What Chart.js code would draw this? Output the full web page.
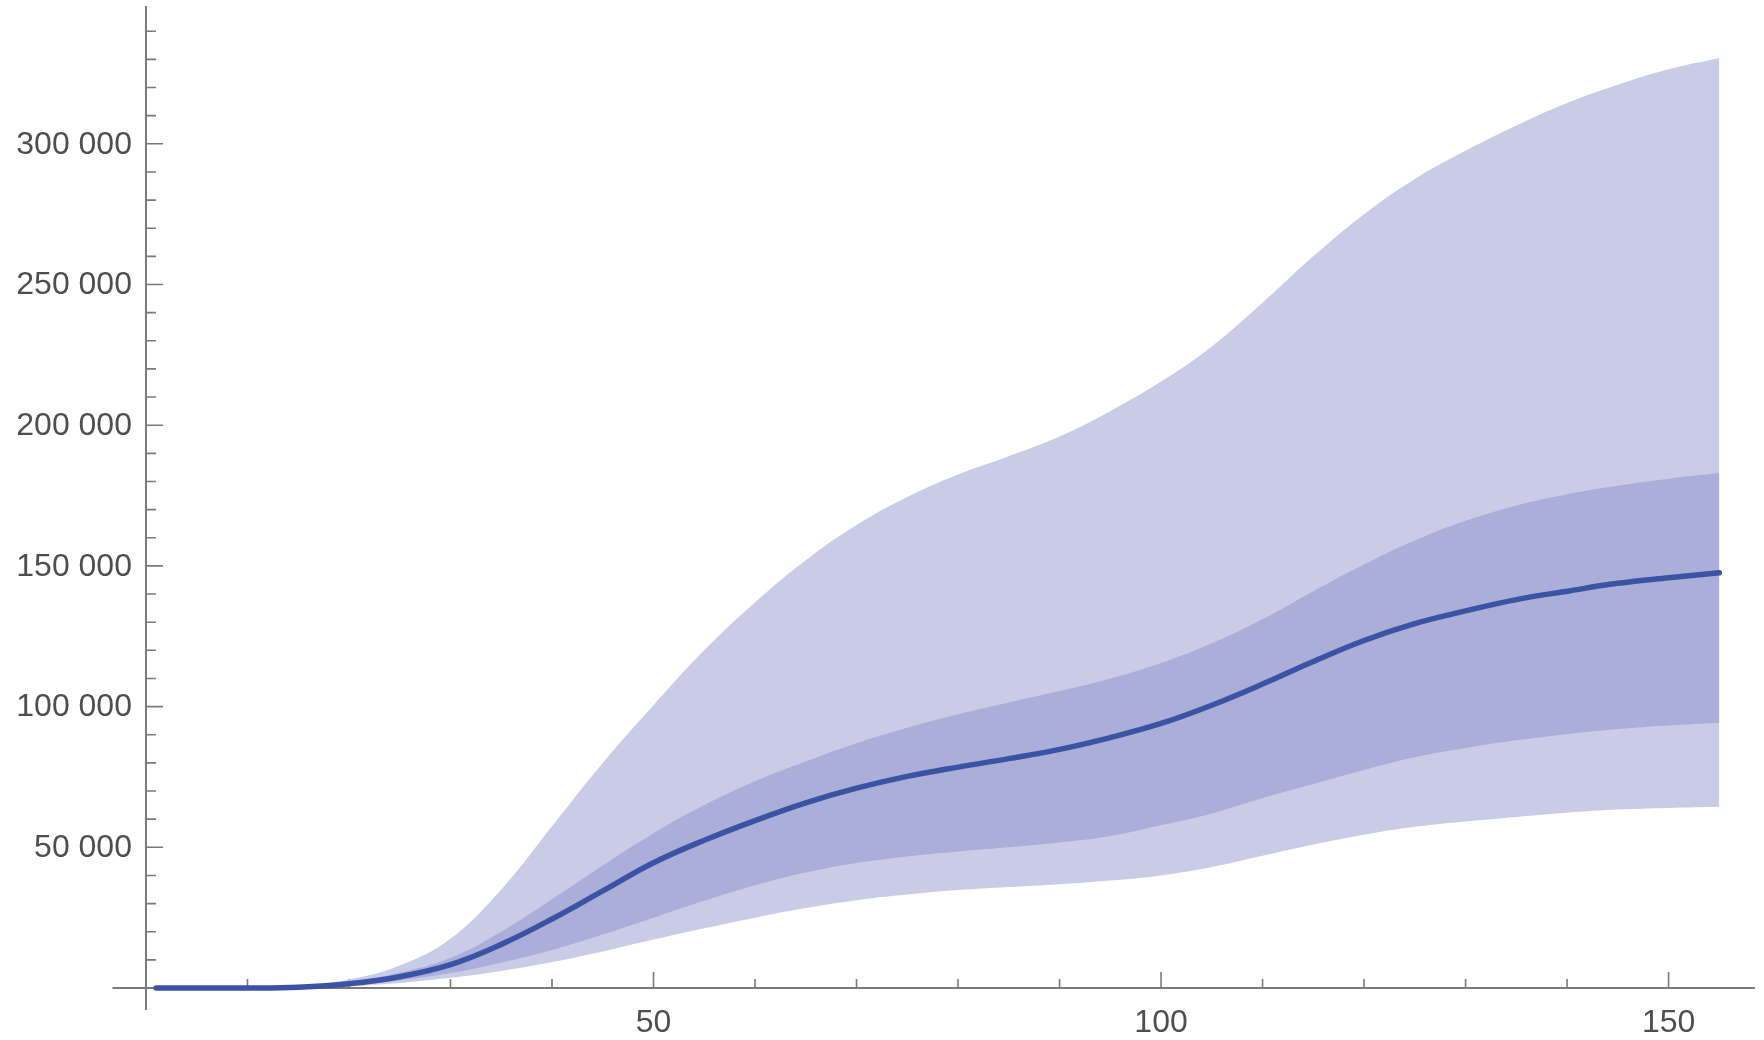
<!DOCTYPE html>
<html>
<head>
<meta charset="utf-8">
<script src="https://cdn.jsdelivr.net/npm/chart.js@4/dist/chart.umd.min.js"></script>
<style>
  html, body { margin: 0; padding: 0; background: #fff; }
  #wrap { width: 1764px; height: 1040px; position: relative; }
</style>
</head>
<body>
<div id="wrap"><canvas id="grafica"></canvas></div>
<script>
// ── Datos: días y bandas de la proyección ─────────────────────────
var dias = [1, 5, 10, 15, 20, 25, 30, 35, 40, 45, 50, 55, 60, 65, 70, 75,
            80, 85, 90, 95, 100, 105, 110, 115, 120, 125, 130, 135, 140, 145, 150, 155];

var mediana = [0, 0, 0, 300, 1500, 4000, 8300, 15500, 24500, 34500, 44500, 52500,
               59500, 65800, 71000, 75200, 78500, 81500, 84800, 89000, 94000, 100500,
               108000, 116000, 123500, 129500, 134000, 138000, 141000, 143800, 145800, 147600];

var internaSup = [0, 0, 0, 400, 2000, 5500, 10700, 20000, 31500, 43500, 55000, 65000,
                  73500, 80500, 87000, 92500, 97300, 101500, 105500, 110000, 115500, 122500,
                  131000, 141000, 150500, 159000, 166000, 171500, 175500, 178500, 181000, 183000];

var internaInf = [0, 0, 0, 200, 1000, 2700, 5300, 9000, 13500, 19000, 25000, 31000,
                  36500, 41000, 44400, 46700, 48500, 50000, 51700, 54000, 57800, 62000,
                  67500, 72500, 77500, 82000, 85300, 88000, 90200, 92000, 93300, 94300];

var externaSup = [0, 0, 0, 600, 3000, 8000, 17500, 35000, 57500, 80000, 100500, 120000,
                  137000, 152000, 164500, 174500, 182500, 189000, 196000, 205000, 215500, 228000,
                  243500, 260000, 275000, 287500, 297500, 306500, 314500, 321000, 326500, 330500];

var externaInf = [0, 0, 0, 100, 700, 1800, 3600, 6000, 9200, 13000, 17200, 21200,
                  25000, 28400, 31200, 33200, 34800, 35900, 36900, 38200, 40000, 43000,
                  47000, 51000, 54500, 57300, 59200, 60800, 62300, 63400, 64000, 64400];

// ── Marcas de los ejes ────────────────────────────────────────────
var xMarcas      = [50, 100, 150];
var xEtiquetas   = ['50', '100', '150'];
var xMenores     = [10, 20, 30, 40, 60, 70, 80, 90, 110, 120, 130, 140];
var yMarcas      = [50000, 100000, 150000, 200000, 250000, 300000];
var yEtiquetas   = ['50 000', '100 000', '150 000', '200 000', '250 000', '300 000'];
var yMenores     = [10000, 20000, 30000, 40000, 60000, 70000, 80000, 90000,
                    110000, 120000, 130000, 140000, 160000, 170000, 180000, 190000,
                    210000, 220000, 230000, 240000, 260000, 270000, 280000, 290000,
                    310000, 320000, 330000, 340000];

function puntos(valores) {
    return dias.map(function(d, i) { return { x: d, y: valores[i] }; });
}

var COLOR_LINEA   = '#3a53a4';
var COLOR_INTERNA = '#abaed9';
var COLOR_EXTERNA = '#c9cce7';
var COLOR_EJE     = '#7a7a7a';
var COLOR_TEXTO   = '#4e4e4e';
var FUENTE        = '32px "Liberation Sans", Arial, sans-serif';

// Ejes al estilo "cruzados en el origen", con marcas hacia dentro
var ejesPlugin = {
    id: 'ejes',
    beforeDatasetsDraw: function(chart) {
        var ctx = chart.ctx;
        var xs = chart.scales.x, ys = chart.scales.y;
        var x0 = xs.getPixelForValue(0);
        var y0 = ys.getPixelForValue(0);

        ctx.save();
        ctx.strokeStyle = COLOR_EJE;
        ctx.lineWidth = 2;

        ctx.beginPath();
        ctx.moveTo(xs.getPixelForValue(-3.3), y0);
        ctx.lineTo(xs.getPixelForValue(158.5), y0);
        ctx.moveTo(x0, ys.getPixelForValue(-7800));
        ctx.lineTo(x0, ys.getPixelForValue(349000));
        ctx.stroke();

        ctx.lineWidth = 1.6;
        ctx.beginPath();
        xMarcas.forEach(function(v) {
            var p = xs.getPixelForValue(v);
            ctx.moveTo(p, y0); ctx.lineTo(p, y0 - 16);
        });
        xMenores.forEach(function(v) {
            var p = xs.getPixelForValue(v);
            ctx.moveTo(p, y0); ctx.lineTo(p, y0 - 9);
        });
        yMarcas.forEach(function(v) {
            var p = ys.getPixelForValue(v);
            ctx.moveTo(x0, p); ctx.lineTo(x0 + 17, p);
        });
        yMenores.forEach(function(v) {
            var p = ys.getPixelForValue(v);
            ctx.moveTo(x0, p); ctx.lineTo(x0 + 10, p);
        });
        ctx.stroke();
        ctx.restore();
    },
    afterDraw: function(chart) {
        var ctx = chart.ctx;
        var xs = chart.scales.x, ys = chart.scales.y;
        var x0 = xs.getPixelForValue(0);
        var y0 = ys.getPixelForValue(0);

        ctx.save();
        ctx.fillStyle = COLOR_TEXTO;
        ctx.font = FUENTE;

        ctx.textAlign = 'right';
        ctx.textBaseline = 'middle';
        yMarcas.forEach(function(v, i) {
            ctx.fillText(yEtiquetas[i], x0 - 14, ys.getPixelForValue(v) + 1);
        });

        ctx.textAlign = 'center';
        ctx.textBaseline = 'top';
        xMarcas.forEach(function(v, i) {
            ctx.fillText(xEtiquetas[i], xs.getPixelForValue(v), y0 + 19);
        });
        ctx.restore();
    }
};

function banda(valores, relleno, color) {
    return {
        data: puntos(valores),
        borderWidth: 0,
        pointRadius: 0,
        backgroundColor: color,
        fill: relleno,
        tension: 0.4
    };
}

new Chart(document.getElementById('grafica'), {
    type: 'line',
    data: {
        datasets: [
            {
                data: puntos(mediana),
                borderColor: COLOR_LINEA,
                borderWidth: 5.5,
                borderCapStyle: 'round',
                pointRadius: 0,
                fill: false,
                tension: 0.4
            },
            banda(internaSup, 2, COLOR_INTERNA),
            banda(internaInf, false, COLOR_INTERNA),
            banda(externaSup, 4, COLOR_EXTERNA),
            banda(externaInf, false, COLOR_EXTERNA)
        ]
    },
    options: {
        responsive: true,
        maintainAspectRatio: false,
        animation: false,
        events: [],
        layout: { padding: 0 },
        plugins: {
            legend: { display: false },
            tooltip: { enabled: false }
        },
        scales: {
            x: { type: 'linear', display: false, min: -14.38, max: 159.4 },
            y: { type: 'linear', display: false, min: -18480, max: 351100 }
        }
    },
    plugins: [ejesPlugin]
});
</script>
</body>
</html>
